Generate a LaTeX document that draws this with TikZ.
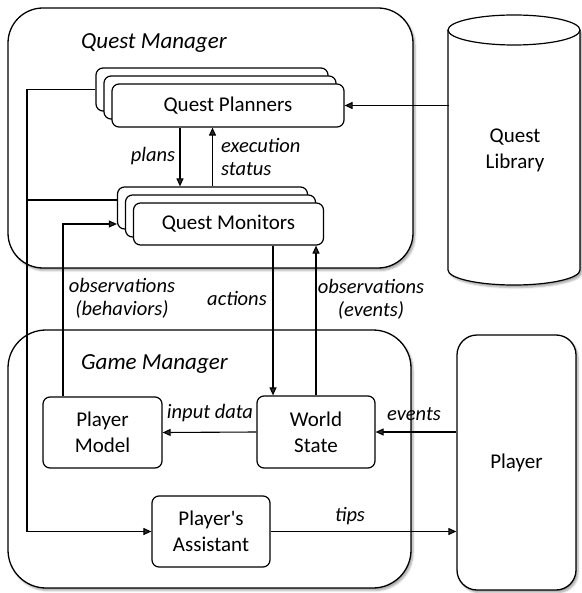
\documentclass[tikz,border=0pt]{standalone}
\usepackage{fontspec}
\setmainfont{Carlito}
\usetikzlibrary{arrows.meta,shadows.blur}
\begin{document}
\begin{tikzpicture}[x=1pt,y=-1pt,
  every node/.style={font=\fontsize{21}{26}\selectfont},
  box/.style={draw, fill=white, line width=1.2pt, rounded corners=7pt, inner sep=0pt, align=center},
  container/.style={box, line width=1.3pt, soft},
  title/.style={font=\fontsize{23}{27}\selectfont\itshape, inner sep=0pt, anchor=west},
  lbl/.style={font=\fontsize{20.5}{23}\selectfont\itshape, inner sep=0pt, align=center},
  conn/.style={-{Triangle[length=8pt,width=7pt]}, line width=1.1pt},
  plain/.style={line width=1.1pt},
  soft/.style={blur shadow={shadow xshift=2pt, shadow yshift=-2.5pt, shadow opacity=35}},
]
\useasboundingbox (0,0) rectangle (581,593);

% containers
\node[container, rounded corners=35pt, minimum width=405, minimum height=260] (questmgr) at (210.5,138) {};
\node[title] (qmtitle) at (81,43) {Quest Manager};
\node[container, rounded corners=38pt, minimum width=403, minimum height=258] (gamemgr) at (209.5,459) {};
\node[title] (gmtitle) at (81,364) {Game Manager};

% quest library cylinder
\fill[white, soft] (448,30) -- (448,270) arc[start angle=180, end angle=360, x radius=66pt, y radius=15pt] -- (580,30) -- cycle;
\draw[line width=1.2pt] (448,30) -- (448,270) arc[start angle=180, end angle=360, x radius=66pt, y radius=15pt] -- (580,30);
\draw[line width=1.2pt, fill=white] (514,30) ellipse[x radius=66pt, y radius=15pt];
\node[minimum width=132, minimum height=240, inner sep=0pt, align=center] (lib) at (515,150) {Quest\\Library};

% player
\node[container, rounded corners=20pt, minimum width=119, minimum height=255] (pl) at (516.5,462.5) {Player};

% quest planners stack
\node[box, minimum width=232, minimum height=43] (qpc) at (212,89.5) {};
\node[box, minimum width=232, minimum height=43] (qpb) at (220,97.5) {};
\node[box, minimum width=232, minimum height=43] (qpa) at (228,105.5) {Quest Planners};

% quest monitors stack
\node[box, minimum width=190, minimum height=42] (qmc) at (212.5,208) {};
\node[box, minimum width=190, minimum height=42] (qmb) at (220.5,216) {};
\node[box, minimum width=190, minimum height=42] (qma) at (228.5,224) {Quest Monitors};

% game manager components
\node[box, minimum width=119, minimum height=71] (pm) at (102.5,432.5) {Player\\Model};
\node[box, minimum width=118, minimum height=72] (ws) at (316,432) {World\\State};
\node[box, minimum width=118, minimum height=71] (pa) at (211,531.5) {Player\textquotesingle s\\Assistant};

% connectors
\coordinate (lx) at (27,0);
\draw[conn] (lib.west |- qpa.east) -- (qpa.east);
\draw[conn] ([xshift=-48pt]qpa.south) -- ([xshift=-48pt]qpa.south |- qmc.north);
\draw[conn] (qmc.north) -- (qmc.north |- qpa.south);
\draw[conn] (qpc.west) -| (lx |- pa.west) -- (pa.west);
\draw[plain] ([yshift=8pt]qmc.west) -- ([yshift=8pt]qmc.west -| lx);
\draw[conn] ([xshift=-39.5pt]pm.north) |- ([yshift=-16pt]qmc.west);
\draw[conn] ([xshift=44.5pt]qma.south) -- ([xshift=44.5pt]qma.south |- ws.north);
\draw[conn] (ws.north) -- (ws.north |- qma.south);
\draw[conn] (ws.west) -- (pm.east);
\draw[conn] (pl.west |- ws.west) -- (ws.east);
\draw[conn] (pa.east) -- (pa.east -| pl.west);

% connector labels
\node[lbl] (lplans) at (153,156) {plans};
\node[lbl, anchor=west, align=left] (lexec) at (221,157) {execution\\status};
\node[lbl] (lobsb) at (122,298) {observations\\(behaviors)};
\node[lbl] (lact) at (237,298) {actions};
\node[lbl] (lobse) at (371,299) {observations\\(events)};
\node[lbl] (linput) at (210,413) {input data};
\node[lbl] (levents) at (414,414) {events};
\node[lbl] (ltips) at (350,516) {tips};
\end{tikzpicture}
\end{document}
